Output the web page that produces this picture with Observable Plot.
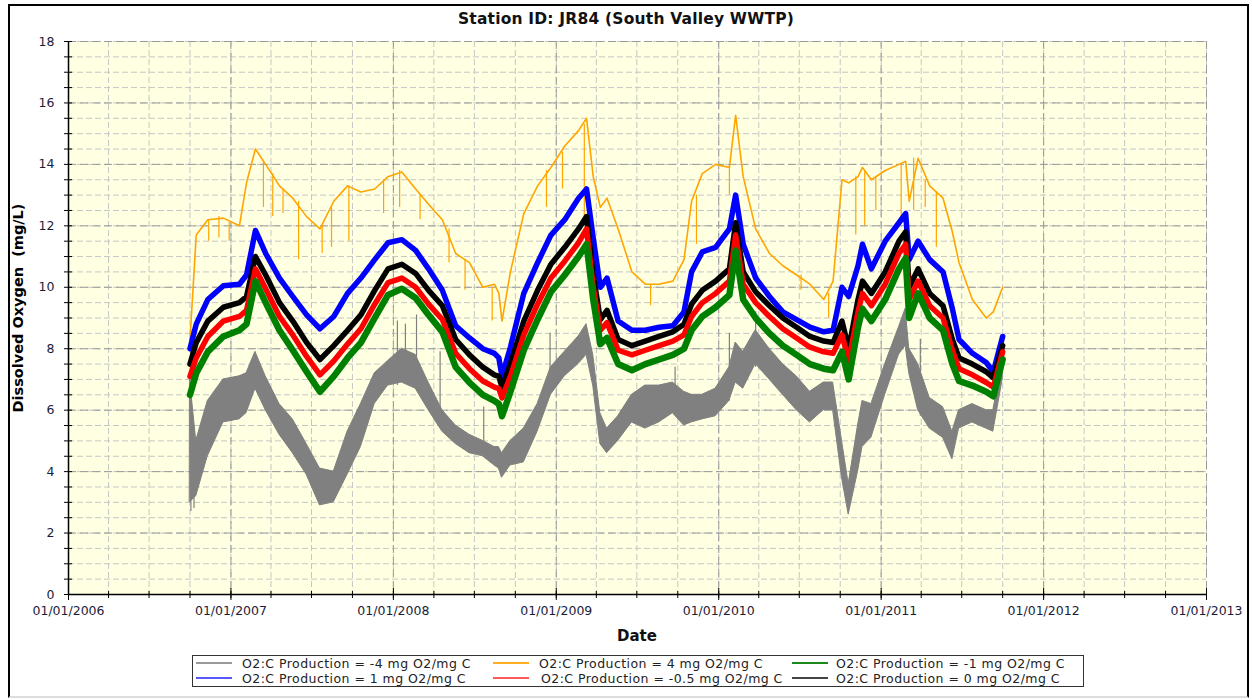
<!DOCTYPE html>
<html><head><meta charset="utf-8">
<script src="https://cdn.jsdelivr.net/npm/d3@7"></script>
<script src="https://cdn.jsdelivr.net/npm/@observablehq/plot@0.6"></script>
<style>
body{margin:0;background:#fff;font-family:"DejaVu Sans",Verdana,sans-serif;}
#wrap{position:relative;width:1252px;height:700px;overflow:hidden;background:#fff;}
#chart{position:absolute;left:0;top:0;}
#border{position:absolute;left:8px;top:4px;width:1241px;height:694px;border:2px solid #000;border-bottom-color:#ddd;box-sizing:border-box;pointer-events:none;}
#title{position:absolute;top:10px;left:0;width:1252px;text-align:center;font-weight:bold;font-size:15.5px;color:#111;letter-spacing:0.2px;}
#ylabel{position:absolute;left:18px;top:308px;transform:translate(-50%,-50%) rotate(-90deg);font-weight:bold;font-size:14.5px;white-space:pre;color:#000;}
#xlabel{position:absolute;left:637px;top:636px;transform:translate(-50%,-50%);font-weight:bold;font-size:15px;color:#111;}
#legend{position:absolute;left:192px;top:655px;width:892px;height:32px;border:1.5px solid #333;box-sizing:border-box;}
.sw{position:absolute;height:2px;width:36px;}
.lt{position:absolute;font-size:12.5px;letter-spacing:0.45px;color:#222;white-space:nowrap;transform:translateY(-50%);}
</style></head>
<body><div id="wrap"><div id="chart"></div>
<div id="title"></div><div id="ylabel"></div><div id="xlabel"></div><div id="legend"></div><div id="border"></div></div>
<script>
const titleText = "Station ID: JR84 (South Valley WWTP)";
const yLabelText = "Dissolved Oxygen  (mg/L)";
const xLabelText = "Date";
const yearTickLabels = ["01/01/2006","01/01/2007","01/01/2008","01/01/2009","01/01/2010","01/01/2011","01/01/2012","01/01/2013"];
const yTickValues = [0,2,4,6,8,10,12,14,16,18];

const seriesLabels = [
  "O2:C Production = -4 mg O2/mg C",
  "O2:C Production = 4 mg O2/mg C",
  "O2:C Production = -1 mg O2/mg C",
  "O2:C Production = 1 mg O2/mg C",
  "O2:C Production = -0.5 mg O2/mg C",
  "O2:C Production = 0 mg O2/mg C"
];

const dates = ["2006-10-01","2006-10-15","2006-11-10","2006-12-15","2007-01-20","2007-02-05","2007-02-25","2007-03-20","2007-04-20","2007-05-20","2007-06-20","2007-07-20","2007-08-20","2007-09-20","2007-10-20","2007-11-20","2007-12-20","2008-01-20","2008-02-20","2008-03-20","2008-04-20","2008-05-20","2008-06-20","2008-07-20","2008-08-15","2008-08-25","2008-09-01","2008-09-20","2008-10-20","2008-11-20","2008-12-20","2009-01-20","2009-02-20","2009-03-10","2009-03-25","2009-04-10","2009-04-25","2009-05-20","2009-06-20","2009-07-20","2009-08-20","2009-09-20","2009-10-15","2009-11-01","2009-11-25","2009-12-25","2010-01-25","2010-02-08","2010-02-25","2010-03-25","2010-04-25","2010-05-25","2010-06-25","2010-07-25","2010-08-25","2010-09-15","2010-10-05","2010-10-20","2010-11-10","2010-11-20","2010-12-10","2011-01-10","2011-02-10","2011-02-25","2011-03-05","2011-03-25","2011-04-20","2011-05-20","2011-06-10","2011-06-25","2011-07-25","2011-08-25","2011-09-10","2011-10-01"];

// O2:C = -4 (gray) lower / upper envelope
const grayLo = [3.0,3.2,4.5,5.6,5.7,5.9,6.7,6.0,5.2,4.6,3.9,2.9,3.0,3.9,4.8,6.2,6.8,6.9,6.7,6.0,5.3,4.9,4.6,4.5,4.2,4.1,3.8,4.2,4.3,5.3,6.5,7.1,7.5,7.8,6.8,4.9,4.6,5.0,5.6,5.4,5.6,5.9,5.5,5.6,5.7,5.8,6.3,6.9,6.7,7.5,7.0,6.5,6.0,5.6,6.0,6.0,3.8,2.6,4.0,4.8,5.1,6.5,7.8,8.1,7.2,6.0,5.4,5.1,4.4,5.4,5.6,5.4,5.3,7.0];
const grayHi = [7.0,5.0,6.3,7.0,7.1,7.2,7.9,7.1,6.2,5.7,4.9,4.1,4.0,5.3,6.2,7.2,7.6,8.0,7.8,6.9,6.0,5.5,5.2,5.0,4.8,4.8,4.6,5.0,5.4,6.2,7.4,7.9,8.4,8.8,7.8,5.9,5.4,5.8,6.5,6.8,6.8,6.9,6.6,6.5,6.5,6.7,7.4,8.2,7.9,8.6,8.0,7.5,7.1,6.6,6.9,6.9,5.0,3.6,5.5,6.3,6.2,7.5,8.7,9.3,8.0,7.5,6.4,6.1,5.3,6.0,6.2,6.0,6.0,7.6];
// O2:C = 4 (orange)
const orangeVals = [8.3,11.7,12.2,12.25,12.0,13.4,14.5,14.0,13.3,12.9,12.3,11.9,12.8,13.3,13.1,13.2,13.6,13.75,13.2,12.7,12.2,11.1,10.8,10.0,10.1,9.8,8.9,10.5,12.4,13.3,13.9,14.6,15.1,15.5,13.6,12.6,12.9,11.9,10.5,10.1,10.1,10.2,10.9,12.8,13.7,14.0,13.9,15.6,13.6,11.9,11.1,10.7,10.4,10.1,9.6,10.2,13.5,13.4,13.6,13.9,13.5,13.8,14.0,14.1,12.8,14.2,13.3,12.9,11.8,10.8,9.6,9.0,9.2,10.0];
// O2:C = 1 (blue)
const blueVals = [8.0,8.8,9.6,10.05,10.1,10.4,11.85,11.1,10.3,9.7,9.1,8.65,9.05,9.8,10.3,10.9,11.45,11.55,11.2,10.6,9.9,8.75,8.35,8.0,7.85,7.7,7.1,8.05,9.8,10.8,11.7,12.2,12.9,13.2,11.6,10.0,10.3,8.9,8.6,8.6,8.7,8.75,9.2,10.5,11.15,11.3,11.9,13.0,11.4,10.3,9.7,9.2,8.95,8.7,8.55,8.6,10.0,9.7,10.7,11.4,10.6,11.5,12.1,12.4,10.9,11.5,10.9,10.5,9.3,8.3,7.85,7.55,7.25,8.4];
// O2:C = 0 (black)
const blackVals = [7.5,8.2,8.9,9.35,9.5,9.7,11.0,10.4,9.5,8.9,8.2,7.65,8.1,8.6,9.1,9.9,10.6,10.75,10.45,9.9,9.4,8.3,7.8,7.4,7.15,7.1,6.75,7.5,8.9,9.9,10.75,11.3,11.9,12.3,10.4,8.95,9.25,8.3,8.1,8.25,8.4,8.55,8.8,9.45,9.9,10.2,10.6,12.1,10.5,9.85,9.4,9.0,8.7,8.4,8.25,8.2,8.9,8.0,9.6,10.2,9.8,10.5,11.5,11.8,10.0,10.6,9.8,9.4,8.3,7.7,7.5,7.25,7.05,8.1];
// O2:C = -0.5 (red)
const redVals = [7.1,7.7,8.4,8.9,9.05,9.25,10.6,9.95,9.05,8.45,7.75,7.15,7.6,8.15,8.65,9.45,10.15,10.3,10.0,9.45,8.95,7.85,7.35,6.95,6.75,6.7,6.4,7.1,8.45,9.45,10.3,10.85,11.45,11.9,10.0,8.6,8.85,7.95,7.8,7.95,8.1,8.25,8.45,9.05,9.5,9.8,10.2,11.7,10.1,9.5,9.05,8.65,8.35,8.05,7.9,7.85,8.45,7.6,9.2,9.8,9.4,10.1,11.1,11.4,9.6,10.2,9.4,9.0,7.95,7.35,7.15,6.9,6.75,7.9];
// O2:C = -1 (green)
const greenVals = [6.5,7.2,7.9,8.4,8.6,8.8,10.2,9.5,8.6,7.95,7.25,6.6,7.1,7.7,8.2,9.0,9.75,9.95,9.65,9.1,8.55,7.4,6.9,6.5,6.3,6.2,5.8,6.6,7.95,8.95,9.85,10.4,11.0,11.4,9.6,8.15,8.35,7.5,7.3,7.5,7.65,7.8,8.0,8.6,9.05,9.35,9.75,11.2,9.6,9.0,8.5,8.1,7.8,7.5,7.35,7.3,7.9,7.0,8.7,9.3,8.9,9.6,10.6,10.95,9.0,9.8,9.0,8.6,7.5,6.95,6.8,6.6,6.45,7.65];

// downward spikes on the orange trace
const orangeSpikeDates = ["2006-11-12","2006-12-05","2006-12-28","2007-03-15","2007-04-05","2007-04-28","2007-06-02","2007-07-25","2007-08-15","2007-09-23","2007-12-10","2008-01-15","2008-03-01","2008-05-05","2008-06-10","2008-08-10","2008-12-10","2009-01-15","2009-03-05","2009-08-01","2009-11-12","2010-01-25","2010-07-05","2010-09-05","2010-11-05","2010-11-25","2010-12-20","2011-02-15","2011-03-15","2011-04-10","2011-05-05"];
const orangeSpikeTop = [12.2,12.3,12.1,14.1,13.7,13.2,12.8,12.0,12.6,13.3,13.5,13.8,13.0,11.9,10.9,10.0,13.8,14.4,15.3,10.1,13.0,13.9,10.4,9.8,13.6,13.8,13.6,14.0,14.2,13.5,13.1];
const orangeSpikeBottom = [11.5,11.6,11.5,12.6,12.3,12.4,10.9,11.1,11.3,11.5,12.4,12.6,12.2,10.8,9.9,8.9,12.6,13.2,12.3,9.4,11.4,13.0,9.9,9.0,11.7,12.0,12.5,12.2,12.5,12.6,11.3];

// upward / downward spikes on the gray trace
const graySpikeDates = ["2006-10-03","2006-10-10","2008-01-10","2008-01-28","2008-02-22","2008-04-15","2008-07-22","2008-12-18","2009-09-25","2010-01-25","2010-03-25","2011-03-30"];
const graySpikeLo = [2.7,2.8,6.8,7.0,6.7,5.6,4.7,6.5,6.0,6.3,7.4,5.8];
const graySpikeHi = [8.6,4.6,8.9,8.8,9.1,7.9,6.1,8.5,7.4,8.5,9.2,8.3];

const parseDay = d3.utcParse("%Y-%m-%d");
const parseTick = d3.utcParse("%m/%d/%Y");
const fmtTick = d3.utcFormat("%m/%d/%Y");

const rows = dates.map((d, i) => ({
  date: parseDay(d), glo: grayLo[i], ghi: grayHi[i], orange: orangeVals[i],
  blue: blueVals[i], black: blackVals[i], red: redVals[i], green: greenVals[i]
}));
const oSpikes = orangeSpikeDates.map((d, i) => ({date: parseDay(d), top: orangeSpikeTop[i], bottom: orangeSpikeBottom[i]}));
const gSpikes = graySpikeDates.map((d, i) => ({date: parseDay(d), lo: graySpikeLo[i], hi: graySpikeHi[i]}));

const yearTicks = yearTickLabels.map(parseTick);
const xDomain = [yearTicks[0], yearTicks[yearTicks.length - 1]];
const quarterTicks = d3.utcMonth.every(3).range(xDomain[0], d3.utcDay.offset(xDomain[1], 1));
const yMinor = d3.range(0, 18.001, 0.5);

const colors = {gray:"#808080", orange:"#ffa500", blue:"#0000ff", black:"#000000", red:"#ff0000", green:"#008000"};

const chart = Plot.plot({
  width: 1252, height: 640,
  marginLeft: 68, marginRight: 46, marginTop: 41, marginBottom: 46,
  x: {type: "utc", domain: xDomain},
  y: {domain: [0, 18]},
  style: {fontFamily: "DejaVu Sans, Verdana, sans-serif", fontSize: "12.5px", color: "#1c1c3a", background: "transparent", overflow: "visible"},
  marks: [
    Plot.frame({fill: "#ffffe1", stroke: null}),
    Plot.gridY(yMinor, {stroke: "#c6c6c6", strokeOpacity: 1, strokeDasharray: "6,3"}),
    Plot.gridX(quarterTicks, {stroke: "#c6c6c6", strokeOpacity: 1, strokeDasharray: "6,3"}),
    Plot.gridY(yTickValues, {stroke: "#9a9a9a", strokeOpacity: 1, strokeDasharray: "8,4"}),
    Plot.gridX(yearTicks, {stroke: "#9a9a9a", strokeOpacity: 1, strokeDasharray: "8,4"}),
    Plot.areaY(rows, {x: "date", y1: "glo", y2: "ghi", fill: colors.gray, stroke: colors.gray, strokeWidth: 1}),
    Plot.ruleX(gSpikes, {x: "date", y1: "lo", y2: "hi", stroke: colors.gray, strokeWidth: 1.2}),
    Plot.lineY(rows, {x: "date", y: "orange", stroke: colors.orange, strokeWidth: 1.6}),
    Plot.ruleX(oSpikes, {x: "date", y1: "top", y2: "bottom", stroke: colors.orange, strokeWidth: 1.2}),
    Plot.lineY(rows, {x: "date", y: "blue", stroke: colors.blue, strokeWidth: 5.5, strokeLinejoin: "round"}),
    Plot.lineY(rows, {x: "date", y: "black", stroke: colors.black, strokeWidth: 5.5, strokeLinejoin: "round"}),
    Plot.lineY(rows, {x: "date", y: "red", stroke: colors.red, strokeWidth: 5.5, strokeLinejoin: "round"}),
    Plot.lineY(rows, {x: "date", y: "green", stroke: colors.green, strokeWidth: 6.5, strokeLinejoin: "round"}),
    Plot.ruleX([xDomain[0]], {stroke: "#000", strokeWidth: 1.5}),
    Plot.ruleY([0], {stroke: "#000", strokeWidth: 1.5}),
    Plot.axisY(yTickValues, {anchor: "left", tickSize: 0, tickPadding: 14, label: null, tickFormat: d => String(d)}),
    Plot.axisY(yMinor, {anchor: "left", tickSize: 8, dx: 4, label: null, tickFormat: () => "", stroke: "#000"}),
    Plot.axisX(yearTicks, {anchor: "bottom", tickSize: 0, tickPadding: 12, label: null, tickFormat: fmtTick}),
    Plot.axisX(yearTicks, {anchor: "bottom", tickSize: 12, dy: -6, label: null, tickFormat: () => "", stroke: "#000"}),
    Plot.axisX(quarterTicks, {anchor: "bottom", tickSize: 7, dy: -3, label: null, tickFormat: () => "", stroke: "#000"})
  ]
});
document.getElementById("chart").appendChild(chart);
document.getElementById("title").textContent = titleText;
document.getElementById("ylabel").textContent = yLabelText;
document.getElementById("xlabel").textContent = xLabelText;

// legend: 2 rows x 3 columns, same order as reference
const legendSwatchShade = ["#9a9a9a", "#ffb020", "#1a8a1a", "#5858ff", "#ff5a5a", "#444444"];
const colSwatchX = [3, 300, 599];
const colTextX = [49, 346, 643];
const rowY = [7, 22];
const leg = document.getElementById("legend");
seriesLabels.forEach((lab, i) => {
  const col = i % 3, row = Math.floor(i / 3);
  const sw = document.createElement("div");
  sw.className = "sw";
  sw.style.left = colSwatchX[col] + "px";
  sw.style.top = (rowY[row] - 1) + "px";
  sw.style.background = legendSwatchShade[i];
  leg.appendChild(sw);
  const t = document.createElement("div");
  t.className = "lt";
  t.style.left = (colTextX[col] + (i === 4 ? 2 : 0)) + "px";
  t.style.top = rowY[row] + "px";
  t.textContent = lab;
  leg.appendChild(t);
});
</script></body></html>
